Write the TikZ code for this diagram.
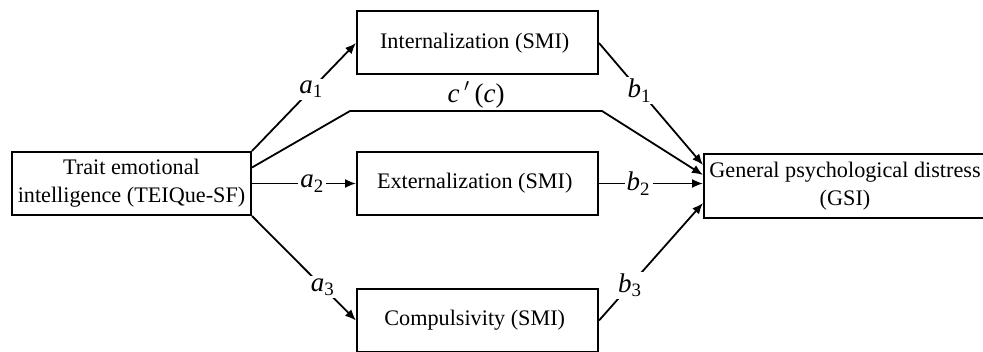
\documentclass[tikz,border=0pt]{standalone}
\usepackage{fontspec}
\setmainfont{Liberation Serif}
\usepackage{tikz}
\usetikzlibrary{positioning,arrows.meta,calc}

\newcommand{\coef}[2]{\textit{#1}\textsubscript{#2}}

\begin{document}
\begin{tikzpicture}
[x=0.5pt, y=-0.5pt,
    font=\fontsize{11.1}{14}\selectfont,
    every node/.style={align=center},
    var/.style={rectangle, draw=black, line width=1pt, inner sep=0pt,
        minimum width=120.5pt, minimum height=31.5pt},
    path/.style={draw=black, line width=0.9pt, -{Latex[length=5.5pt,width=4.5pt]}},
    coef/.style={fill=white, inner sep=1pt, font=\fontsize{13.5}{14}\selectfont}
    ]

    \clip (0,0) rectangle (983,352);

    \node[var, minimum width=119.5pt] (trait) at (131.5,183.5)
        { Trait emotional\\intelligence (TEIQue-SF) };
    \node[var] (intern) at (477.5,43) { Internalization (SMI) };
    \node[var] (extern) at (477.5,183.5) { Externalization (SMI) };
    \node[var] (compul) at (477.5,320.5) { Compulsivity (SMI) };
    \node[var, minimum width=141pt, minimum height=32pt] (gsi) at (845,186)
        { General psychological distress\\(GSI) };

    \coordinate (cleft) at (350,111);
    \coordinate (cright) at (602,111);

    \draw[path] (trait.north east) -- node[coef, pos=0.57] {\coef{a}{1}} (intern.west);
    \draw[path] (trait.east) -- node[coef, pos=0.58] {\coef{a}{2}} (extern.west);
    \draw[path] (trait.south east) -- node[coef, pos=0.68] {\coef{a}{3}} (compul.west);

    \draw[path] ([yshift=8pt]trait.east) -- (cleft)
        -- node[coef, fill=none, above=0pt] {\textit{c}\,$'$\,(\textit{c})} (cright)
        -- ([yshift=5.5pt]gsi.west);

    \draw[path] (intern.east) -- node[coef, pos=0.39] {\coef{b}{1}} ([yshift=10.5pt]gsi.west);
    \draw[path] (extern.east) -- node[coef, pos=0.38] {\coef{b}{2}} (extern.east -| gsi.west);
    \draw[path] (compul.east) -- node[coef, pos=0.3] {\coef{b}{3}} ([yshift=-8.5pt]gsi.west);
\end{tikzpicture}
\end{document}
